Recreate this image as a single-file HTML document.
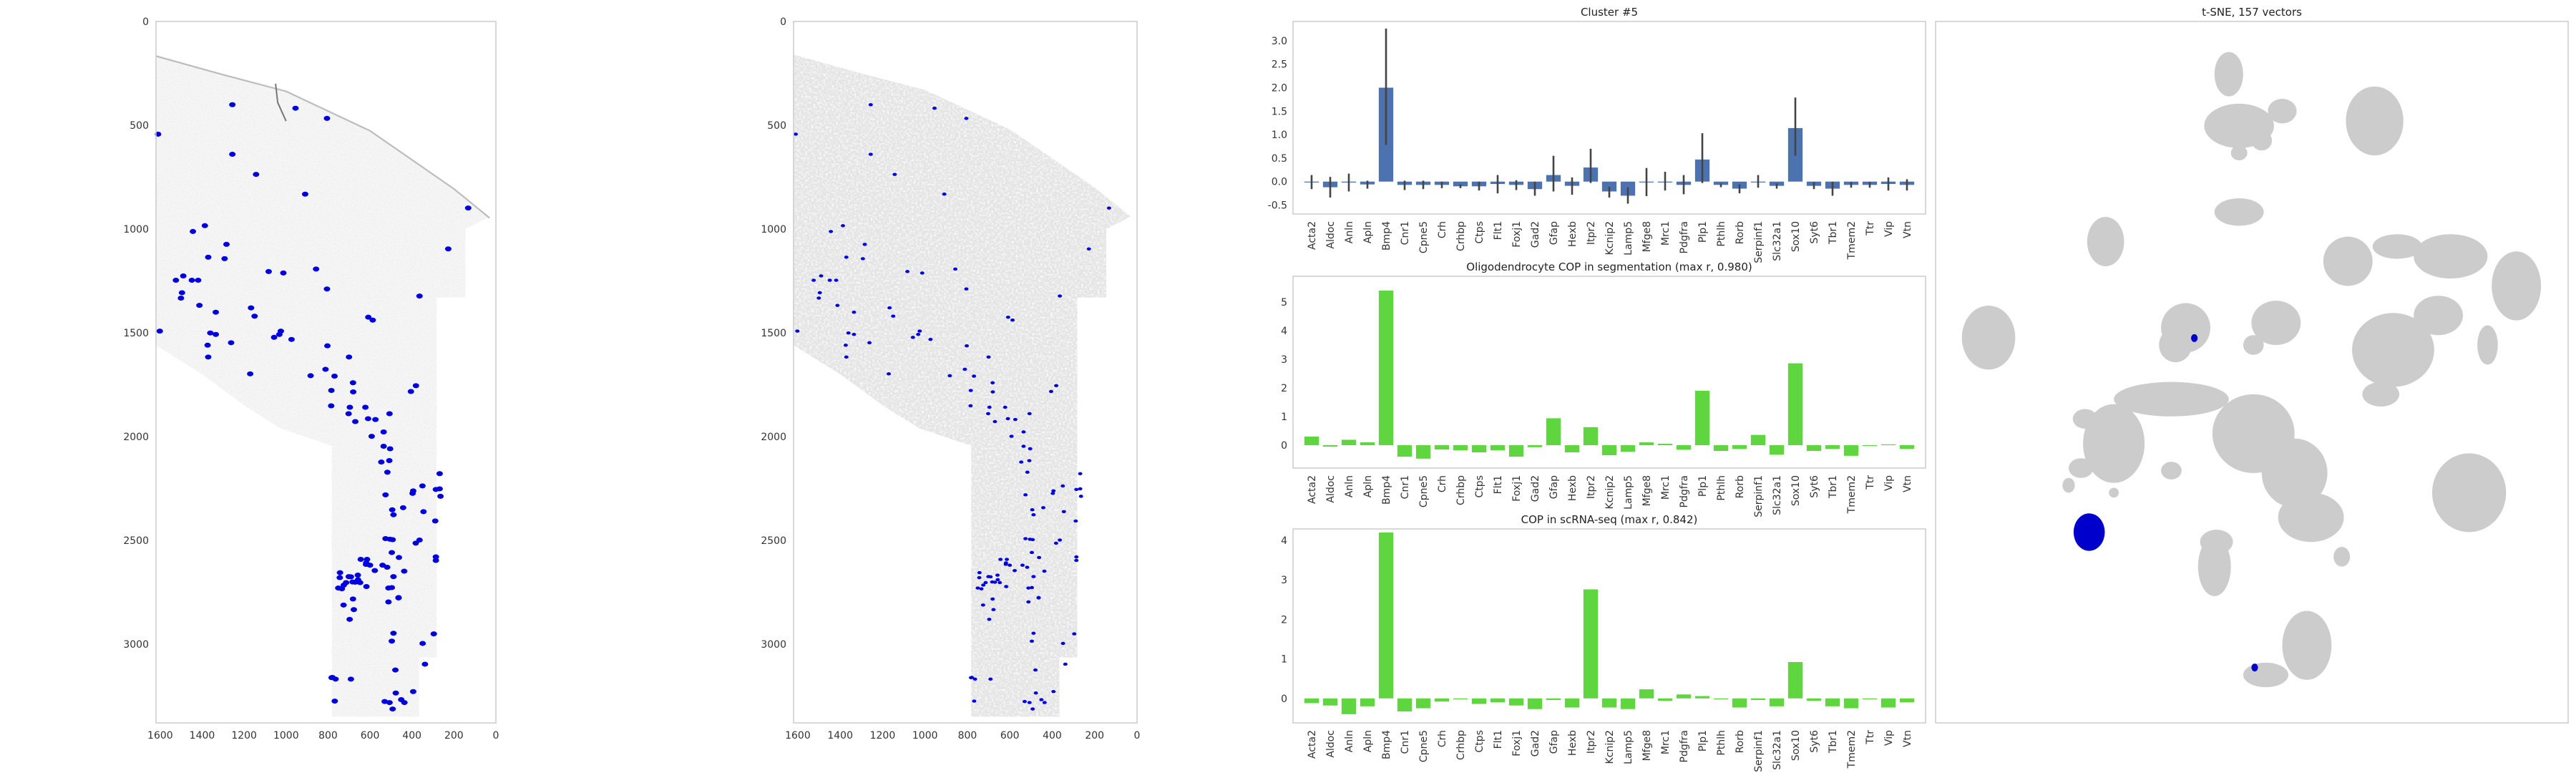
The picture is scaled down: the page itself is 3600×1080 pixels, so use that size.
<!DOCTYPE html>
<html><head><meta charset="utf-8"><style>
html,body{margin:0;padding:0;background:#fff;}
svg{display:block;font-family:"DejaVu Sans","Liberation Sans",sans-serif;}
.tk{font-size:14px;fill:#333;}
.ttl{font-size:15px;fill:#222;}
</style></head><body>
<svg id="fig" width="3600" height="1080" viewBox="0 0 3600 1080" xmlns="http://www.w3.org/2000/svg">
<defs>
<filter id="speck" x="0" y="0" width="100%" height="100%">
<feTurbulence type="fractalNoise" baseFrequency="0.35" numOctaves="2" seed="3" result="n"/>
<feColorMatrix in="n" type="matrix" values="0 0 0 0 1  0 0 0 0 1  0 0 0 0 1  0 0 0 -2.2 1.25" result="w"/>
<feComposite in="w" in2="SourceGraphic" operator="in" result="wm"/>
<feMerge><feMergeNode in="SourceGraphic"/><feMergeNode in="wm"/></feMerge>
</filter>
<filter id="faint" x="0" y="0" width="100%" height="100%">
<feTurbulence type="fractalNoise" baseFrequency="0.5" numOctaves="2" seed="7" result="n"/>
<feColorMatrix in="n" type="matrix" values="0 0 0 0 0.8  0 0 0 0 0.8  0 0 0 0 0.8  0 0 0 1.2 -0.45" result="g"/>
<feComposite in="g" in2="SourceGraphic" operator="in" result="gm"/>
<feMerge><feMergeNode in="SourceGraphic"/><feMergeNode in="gm"/></feMerge>
</filter>
</defs>
</svg>
<script>
const genes=["Acta2","Aldoc","Anln","Apln","Bmp4","Cnr1","Cpne5","Crh","Crhbp","Ctps","Flt1","Foxj1","Gad2","Gfap","Hexb","Itpr2","Kcnip2","Lamp5","Mfge8","Mrc1","Pdgfra","Plp1","Pthlh","Rorb","Serpinf1","Slc32a1","Sox10","Syt6","Tbr1","Tmem2","Ttr","Vip","Vtn"];
const clusterVals=[0,-0.12,-0.02,-0.06,2.0,-0.07,-0.07,-0.07,-0.1,-0.1,-0.05,-0.07,-0.16,0.14,-0.09,0.3,-0.21,-0.3,0,0,-0.07,0.47,-0.07,-0.15,0,-0.09,1.14,-0.09,-0.15,-0.07,-0.07,-0.05,-0.07];
const clusterErrHi=[0.14,0.1,0.17,0.02,3.26,0.02,0.02,0,-0.06,0,0.14,0.03,0,0.55,0.09,0.7,-0.11,-0.12,0.29,0.21,0.14,1.03,-0.04,-0.06,0.14,-0.04,1.79,-0.01,0,-0.01,-0.01,0.09,0.05];
const clusterErrLo=[-0.16,-0.34,-0.21,-0.15,0.78,-0.18,-0.16,-0.14,-0.14,-0.19,-0.25,-0.18,-0.3,-0.21,-0.28,-0.03,-0.34,-0.47,-0.31,-0.19,-0.27,-0.03,-0.12,-0.25,-0.13,-0.15,0.55,-0.16,-0.3,-0.13,-0.13,-0.19,-0.19];
const segVals=[0.3,-0.05,0.19,0.1,5.4,-0.4,-0.47,-0.15,-0.18,-0.25,-0.18,-0.4,-0.07,0.94,-0.25,0.63,-0.35,-0.23,0.1,0.05,-0.16,1.9,-0.2,-0.13,0.36,-0.33,2.86,-0.2,-0.13,-0.37,0,0.03,-0.13];
const scVals=[-0.12,-0.18,-0.4,-0.2,4.2,-0.33,-0.25,-0.08,-0.02,-0.14,-0.1,-0.18,-0.27,-0.04,-0.23,2.76,-0.23,-0.27,0.23,-0.06,0.1,0.06,0,-0.23,-0.04,-0.2,0.92,-0.06,-0.2,-0.25,0,-0.23,-0.1];
const ticks1=[-0.5,0,0.5,1,1.5,2,2.5,3];
const ticks2=[0,1,2,3,4,5];
const ticks3=[0,1,2,3,4];
const imgXTicks=[1600,1400,1200,1000,800,600,400,200,0];
const imgYTicks=[0,500,1000,1500,2000,2500,3000];
const cellX=[1256,955,805,1610,1256,1143,909,132,1387,1444,1284,1371,1293,227,1083,1013,857,805,1490,1525,1449,1419,1496,1501,1413,1335,364,1167,1150,608,587,1602,1361,1335,1025,1057,1032,974,1262,1374,1371,803,700,1171,883,812,769,681,381,405,784,680,785,696,622,702,507,670,609,574,592,535,535,504,508,546,517,268,350,394,268,286,264,397,526,442,494,345,488,289,526,505,492,364,382,496,462,286,286,614,540,518,644,619,437,618,600,577,743,744,701,658,691,488,670,647,683,714,725,657,751,734,617,512,496,464,464,681,512,726,677,697,488,296,496,349,338,479,783,779,764,691,477,394,768,451,436,530,507,492,465,639];
const cellY=[401,418,467,543,640,737,832,899,984,1012,1074,1136,1143,1096,1205,1212,1193,1289,1226,1247,1247,1247,1307,1333,1368,1401,1323,1380,1420,1425,1439,1492,1501,1508,1492,1522,1508,1532,1548,1560,1617,1563,1617,1698,1707,1676,1709,1741,1755,1783,1778,1785,1852,1859,1859,1890,1890,1928,1914,1918,1999,1978,2047,2059,2116,2123,2172,2179,2238,2262,2252,2255,2288,2274,2281,2343,2353,2362,2377,2407,2492,2495,2497,2499,2514,2559,2583,2580,2597,2592,2620,2630,2592,2616,2649,2609,2620,2646,2656,2680,2675,2668,2676,2675,2702,2704,2701,2704,2716,2690,2730,2734,2723,2730,2728,2778,2776,2783,2797,2812,2834,2881,2948,2951,2986,2997,3097,3125,3162,3161,3169,3169,3236,3229,3275,3268,3282,3277,3282,3313];
const tsneX=[720,745,850,800,745,1075,745,420,135,615,590,835,780,1010,1130,1260,1420,1120,1230,1350,1090,580,440,370,360,330,780,880,920,580,440,995,685,690,910,810,1305];
const tsneY=[150,255,225,285,310,245,430,490,685,665,700,655,700,530,500,520,580,710,640,700,800,810,900,850,950,985,880,960,1050,955,1000,1130,1150,1100,1310,1370,1000];
const tsneRX=[35,85,35,25,20,70,60,45,65,60,40,60,25,60,60,90,60,100,60,25,45,140,75,30,30,15,100,80,80,25,12,20,40,40,60,55,90];
const tsneRY=[45,45,25,20,15,70,28,50,65,50,35,45,20,50,25,45,70,75,40,40,25,35,80,20,20,15,80,70,50,18,10,20,60,25,70,25,80];
const selX=[380,636,783];
const selY=[1080,686,1355];
const selR=[38,8,8];

const NS="http://www.w3.org/2000/svg";
const fig=document.getElementById('fig');
function mk(tag,attrs,parent){const e=document.createElementNS(NS,tag);for(const k in attrs)e.setAttribute(k,attrs[k]);(parent||fig).appendChild(e);return e;}
function txt(s,attrs,parent){const e=mk('text',attrs,parent);e.textContent=s;return e;}

function imagePanel(x0,x1,name,style){
  const y0=30,y1=1010;
  const g=mk('g',{},fig);
  
  
  const sx=v=>x0+(1620-v)/1620*(x1-x0);
  const sy=v=>y0+v/3380*(y1-y0);
  const poly=[[1620,160],[1300,250],[1000,330],[600,520],[200,800],[30,940],[145,1000],[145,1330],[282,1330],[282,3065],[366,3065],[366,3350],[782,3350],[782,2045],[1028,1960],[1200,1850],[1400,1700],[1620,1560]];
  const tissue=mk('polygon',{points:poly.map(p=>sx(p[0])+','+sy(p[1])).join(' '),fill:style==='seg'?'#e4e4e4':'#f6f6f6',filter:style==='seg'?'url(#speck)':'url(#faint)'},g);
  
  
  if(style!=='seg'){
    mk('polyline',{points:[[1620,160],[1300,250],[1000,330],[600,520],[200,800],[30,940]].map(p=>sx(p[0])+','+(sy(p[1])+2)).join(' '),fill:'none',stroke:'#bbb','stroke-width':2},g);
    mk('polyline',{points:[[1050,300],[1040,390],[1000,480]].map(p=>sx(p[0])+','+sy(p[1])).join(' '),fill:'none',stroke:'#777','stroke-width':2},g);
  }
  const n=Math.min(cellX.length,cellY.length);
  for(let i=0;i<n;i++){
    const d=mk('ellipse',{cx:sx(cellX[i]),cy:sy(cellY[i]),rx:style==='seg'?3:4.5,ry:style==='seg'?2.2:3.5,fill:'#0000dd'},g);
    
    
  }
  const fr=mk('rect',{x:x0,y:y0,width:x1-x0,height:y1-y0,fill:'none',stroke:'#ccc','stroke-width':1.5},g);
  
  
  imgXTicks.forEach(v=>{const t=txt(String(v),{x:sx(v),y:y1+22,'text-anchor':'middle',class:'tk'},g);});
  imgYTicks.forEach(v=>{const t=txt(String(v),{x:x0-10,y:sy(v)+5,'text-anchor':'end',class:'tk'},g);});
}
imagePanel(218,693,'raw-image-panel','raw');
imagePanel(1109,1589,'segmentation-panel','seg');

function barChart(name,title,vals,yTop,yBot,vMax,vMin,ticks,color,fmt,errHi,errLo){
  const x0=1807,x1=2691;
  const g=mk('g',{},fig);
  
  
  const sx=i=>x0+(i+1)/34*(x1-x0);
  const sy=v=>yTop+(vMax-v)/(vMax-vMin)*(yBot-yTop);
  const t=txt(title,{x:(x0+x1)/2,y:yTop-8,'text-anchor':'middle',class:'ttl'},g);
  
  
  const bw=0.78*(x1-x0)/34;
  vals.forEach((v,i)=>{
    const ya=sy(Math.max(v,0)),yb=sy(Math.min(v,0));
    const b=mk('rect',{x:sx(i)-bw/2,y:ya,width:bw,height:Math.max(yb-ya,1.2),fill:color},g);
    
    
    if(errHi){
      const l=mk('line',{x1:sx(i),x2:sx(i),y1:sy(errHi[i]),y2:sy(errLo[i]),stroke:'#444','stroke-width':2.6},g);
      
      
    }
    const lab=txt(genes[i],{x:0,y:0,transform:`translate(${sx(i)+5},${yBot+10}) rotate(-90)`,'text-anchor':'end',class:'tk'},g);
    
    
  });
  ticks.forEach(v=>{const tl=txt(fmt(v),{x:x0-8,y:sy(v)+5,'text-anchor':'end',class:'tk'},g);});
  const fr=mk('rect',{x:x0,y:yTop,width:x1-x0,height:yBot-yTop,fill:'none',stroke:'#ccc','stroke-width':1.5},g);
  
  
}
barChart('cluster-5-chart','Cluster #5',clusterVals,30,299,3.41,-0.69,ticks1,'#4c72b0',v=>v.toFixed(1),clusterErrHi,clusterErrLo);
barChart('segmentation-cop-chart','Oligodendrocyte COP in segmentation (max r, 0.980)',segVals,386,654,5.9,-0.8,ticks2,'#5fd63f',v=>String(v));
barChart('scrnaseq-cop-chart','COP in scRNA-seq (max r, 0.842)',scVals,739,1010,4.29,-0.62,ticks3,'#5fd63f',v=>String(v));

(function(){
  const g=mk('g',{},fig);
  
  
  const X=v=>2705+(v-6)*0.574, Y=v=>30+(v-43)*0.688;
  const t=txt('t-SNE, 157 vectors',{x:3147,y:22,'text-anchor':'middle',class:'ttl'},g);
  
  
  for(let i=0;i<tsneX.length;i++){
    const e=mk('ellipse',{cx:X(tsneX[i]),cy:Y(tsneY[i]),rx:tsneRX[i]*0.574,ry:tsneRY[i]*0.688,fill:'#cccccc'},g);
    
    
  }
  for(let i=0;i<selX.length;i++){
    const e=mk('ellipse',{cx:X(selX[i]),cy:Y(selY[i]),rx:selR[i]*0.574,ry:selR[i]*0.688,fill:'#0000cc'},g);
    
    
  }
  const fr=mk('rect',{x:2705,y:30,width:884,height:980,fill:'none',stroke:'#ccc','stroke-width':1.5},g);
  
  
})();
</script>
</body></html>
